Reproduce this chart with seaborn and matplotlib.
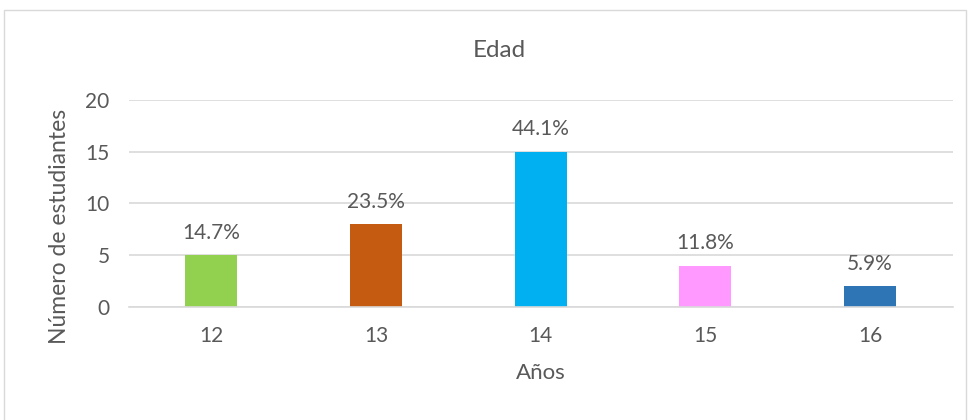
import matplotlib
matplotlib.use("Agg")
import matplotlib.pyplot as plt
import seaborn as sns
import pandas as pd
from matplotlib.patches import Rectangle

edades = ["12", "13", "14", "15", "16"]
estudiantes = [5, 8, 15, 4, 2]
porcentajes = ["14.7%", "23.5%", "44.1%", "11.8%", "5.9%"]
colores = ["#92D050", "#C55A11", "#00B0F0", "#FF99FF", "#2E75B6"]

df = pd.DataFrame({"Años": edades, "Estudiantes": estudiantes})

sns.set_style("white")
plt.rcParams["font.family"] = ["Lato", "DejaVu Sans"]
texto = "#595959"

fig = plt.figure(figsize=(9.69, 4.2), dpi=100)
ax = fig.add_axes([0.133, 0.269, 0.850, 0.493])

sns.barplot(data=df, x="Años", y="Estudiantes", hue="Años", palette=colores,
            legend=False, width=0.315, saturation=1, linewidth=0, ax=ax)

ax.set_ylim(0, 20)
ax.set_yticks([0, 5, 10, 15, 20])
ax.set_xlim(-0.5, 4.5)
ax.yaxis.grid(True, color="#D9D9D9", linewidth=1.2)
ax.set_axisbelow(True)
for s in ["top", "right", "left"]:
    ax.spines[s].set_visible(False)
ax.spines["bottom"].set_color("#D9D9D9")
ax.spines["bottom"].set_linewidth(1.2)
ax.tick_params(axis="both", length=0, labelsize=15, colors=texto)
ax.tick_params(axis="y", pad=14)
ax.tick_params(axis="x", pad=14)

for i, (v, p) in enumerate(zip(estudiantes, porcentajes)):
    ax.annotate(p, (i, v), xytext=(0, 9), textcoords="offset points",
                ha="center", va="bottom", fontsize=15, color=texto)

ax.set_xlabel("Años", fontsize=16, color=texto, labelpad=12)
ax.set_ylabel("Número de estudiantes", fontsize=16.5, color=texto)
ax.yaxis.set_label_coords(-0.072, 0.39)
fig.text(0.515, 0.88, "Edad", ha="center", va="center", fontsize=17.5, color=texto)

fig.patches.append(Rectangle((4 / 969, -0.05), 962 / 969, 1.05 - 10 / 420,
                             transform=fig.transFigure, fill=False,
                             edgecolor="#D9D9D9", linewidth=1))

fig.savefig("out.png", dpi=100)
